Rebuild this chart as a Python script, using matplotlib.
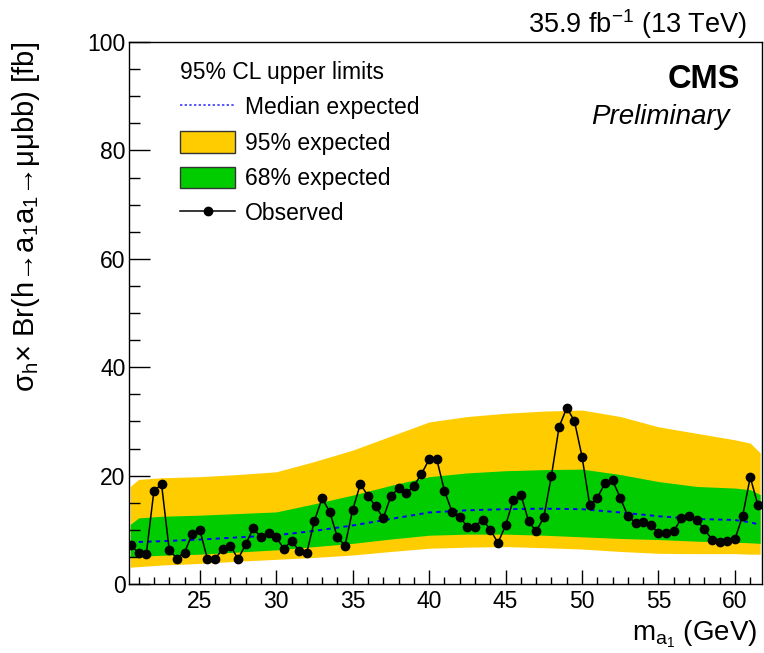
import numpy as np
import matplotlib
matplotlib.use("Agg")
import matplotlib.pyplot as plt
from matplotlib.lines import Line2D
from matplotlib.patches import Patch
from matplotlib.ticker import MultipleLocator

plt.rcParams['font.family'] = ['Liberation Sans', 'DejaVu Sans']
plt.rcParams['mathtext.fontset'] = 'custom'
plt.rcParams['mathtext.rm'] = 'Liberation Sans'
plt.rcParams['mathtext.it'] = 'Liberation Sans:italic'
plt.rcParams['mathtext.bf'] = 'Liberation Sans:bold'

# ------------------- DATA ------------------- #
# observed limit, one point every 0.5 GeV from 20.5 to 61.5
mass = np.arange(20.5, 61.75, 0.5)
observed = [7.2, 5.7, 5.5, 17.2, 18.4, 6.3, 4.7, 5.8, 9.2,
            10.0, 4.6, 4.7, 6.4, 7.1, 4.6, 7.3, 10.3, 8.6, 9.4,
            8.6, 6.5, 8.0, 6.1, 5.8, 11.7, 15.8, 13.3, 8.6, 7.1,
            13.7, 18.4, 16.3, 14.3, 12.2, 16.2, 17.7, 16.7, 18.1, 20.3,
            23.0, 23.0, 17.2, 13.3, 12.3, 10.6, 10.6, 11.9, 10.0, 7.6,
            10.8, 15.5, 16.5, 11.6, 9.7, 12.3, 20.0, 29.0, 32.5, 30.1,
            23.5, 14.6, 15.9, 18.6, 19.1, 15.9, 12.5, 11.3, 11.5, 10.8,
            9.5, 9.5, 9.8, 12.1, 12.5, 11.8, 10.1, 8.2, 7.7, 8.0,
            8.3, 12.5, 19.7, 14.6]

# expected limit and bands
exp_mass = [20.45, 21.0, 22.5, 25, 27.5, 30, 32.5, 35, 37.5, 40, 42.5,
            45, 47.5, 50, 52.5, 55, 57.5, 60, 61.0, 61.65]
median = [7.7, 7.75, 7.9, 8.2, 8.6, 9.0, 9.8, 10.8, 12.0, 13.2, 13.6,
          13.8, 13.9, 13.8, 13.2, 12.5, 12.0, 11.8, 11.4, 10.9]
band68_lo = [5.0, 5.1, 5.3, 5.5, 5.9, 6.3, 6.9, 7.5, 8.3, 9.0, 9.2,
             9.2, 9.0, 8.7, 8.4, 8.2, 7.9, 7.7, 7.6, 7.5]
band68_hi = [11.0, 12.2, 12.5, 12.7, 13.0, 13.3, 14.8, 16.4, 18.2, 19.8, 20.5,
             20.9, 21.1, 21.2, 20.2, 18.9, 18.0, 17.7, 17.4, 16.5]
band95_lo = [3.1, 3.2, 3.5, 3.8, 4.2, 4.55, 4.9, 5.35, 6.0, 6.6, 6.8,
             6.9, 6.7, 6.45, 6.0, 5.66, 5.6, 5.6, 5.5, 5.5]
band95_hi = [18.0, 19.3, 19.6, 19.8, 20.2, 20.7, 22.6, 24.7, 27.3, 29.9, 30.9,
             31.5, 31.9, 32.1, 30.9, 29.0, 27.8, 26.6, 26.0, 24.2]

YELLOW = "#FFCC00"
GREEN = "#00CC00"

# ------------------- FIGURE ------------------- #
fig = plt.figure(figsize=(7.64, 6.53), dpi=100)
ax = fig.add_axes([129 / 764, 69 / 653, 633 / 764, 542 / 653])

ax.fill_between(exp_mass, band95_lo, band95_hi, color=YELLOW, lw=0)
ax.fill_between(exp_mass, band68_lo, band68_hi, color=GREEN, lw=0)
ax.plot(exp_mass, median, color="#0000FF", lw=1.4, ls=(0, (2.2, 2.2)))
ax.plot(mass, observed, color="black", lw=1.1, marker="o", ms=6)

ax.set_xlim(20.37, 61.77)
ax.set_ylim(0, 100)

ax.xaxis.set_major_locator(MultipleLocator(5))
ax.xaxis.set_minor_locator(MultipleLocator(1))
ax.yaxis.set_major_locator(MultipleLocator(20))
ax.yaxis.set_minor_locator(MultipleLocator(5))
ax.tick_params(axis="both", which="both", direction="in", top=False, right=False,
               width=1.0, labelsize=16.5)
ax.tick_params(axis="y", which="major", length=15, pad=2.5)
ax.tick_params(axis="y", which="minor", length=8)
ax.tick_params(axis="x", which="major", length=10, pad=4)
ax.tick_params(axis="x", which="minor", length=5)
for sp in ax.spines.values():
    sp.set_linewidth(1.0)

ax.set_xlabel(r"m$_{\mathrm{a}_{1}}$ (GeV)", fontsize=20, loc="right")
ax.xaxis.set_label_coords(0.992, -0.063)
ax.set_ylabel(r"σ$_{\mathrm{h}}$× Br(h→a$_{1}$a$_{1}$→μμbb) [fb]", fontsize=21, loc="top")
ax.yaxis.set_label_coords(-0.138, 1.0)

# ------------------- LEGEND & LABELS ------------------- #
handles = [
    Line2D([], [], color="#5555FF", lw=1.4, ls=(0, (1.2, 1.2))),
    Patch(facecolor=YELLOW, edgecolor="#333333", lw=1.0),
    Patch(facecolor=GREEN, edgecolor="#333333", lw=1.0),
    Line2D([], [], color="black", lw=1.1, marker="o", ms=6),
]
labels = ["Median expected", "95% expected", "68% expected", "Observed"]
leg = ax.legend(handles, labels, title="95% CL upper limits", loc="upper left",
                bbox_to_anchor=(180 / 764, 1 - 61 / 653), bbox_transform=fig.transFigure,
                frameon=False, fontsize=16.5, title_fontsize=16.5, alignment="left",
                handlelength=2.4, handleheight=1.05, handletextpad=0.45,
                labelspacing=0.52, borderpad=0, borderaxespad=0)

fig.text(740 / 764, 1 - 79 / 653, "CMS", fontsize=23.5, fontweight="bold",
         ha="right", va="center")
fig.text(730 / 764, 1 - 117 / 653, "Preliminary", fontsize=20, fontstyle="italic",
         ha="right", va="center")
fig.text(747 / 764, 1 - 24 / 653, r"35.9 fb$^{-1}$ (13 TeV)", fontsize=19.5,
         ha="right", va="center")

fig.savefig("out.png", dpi=100)
